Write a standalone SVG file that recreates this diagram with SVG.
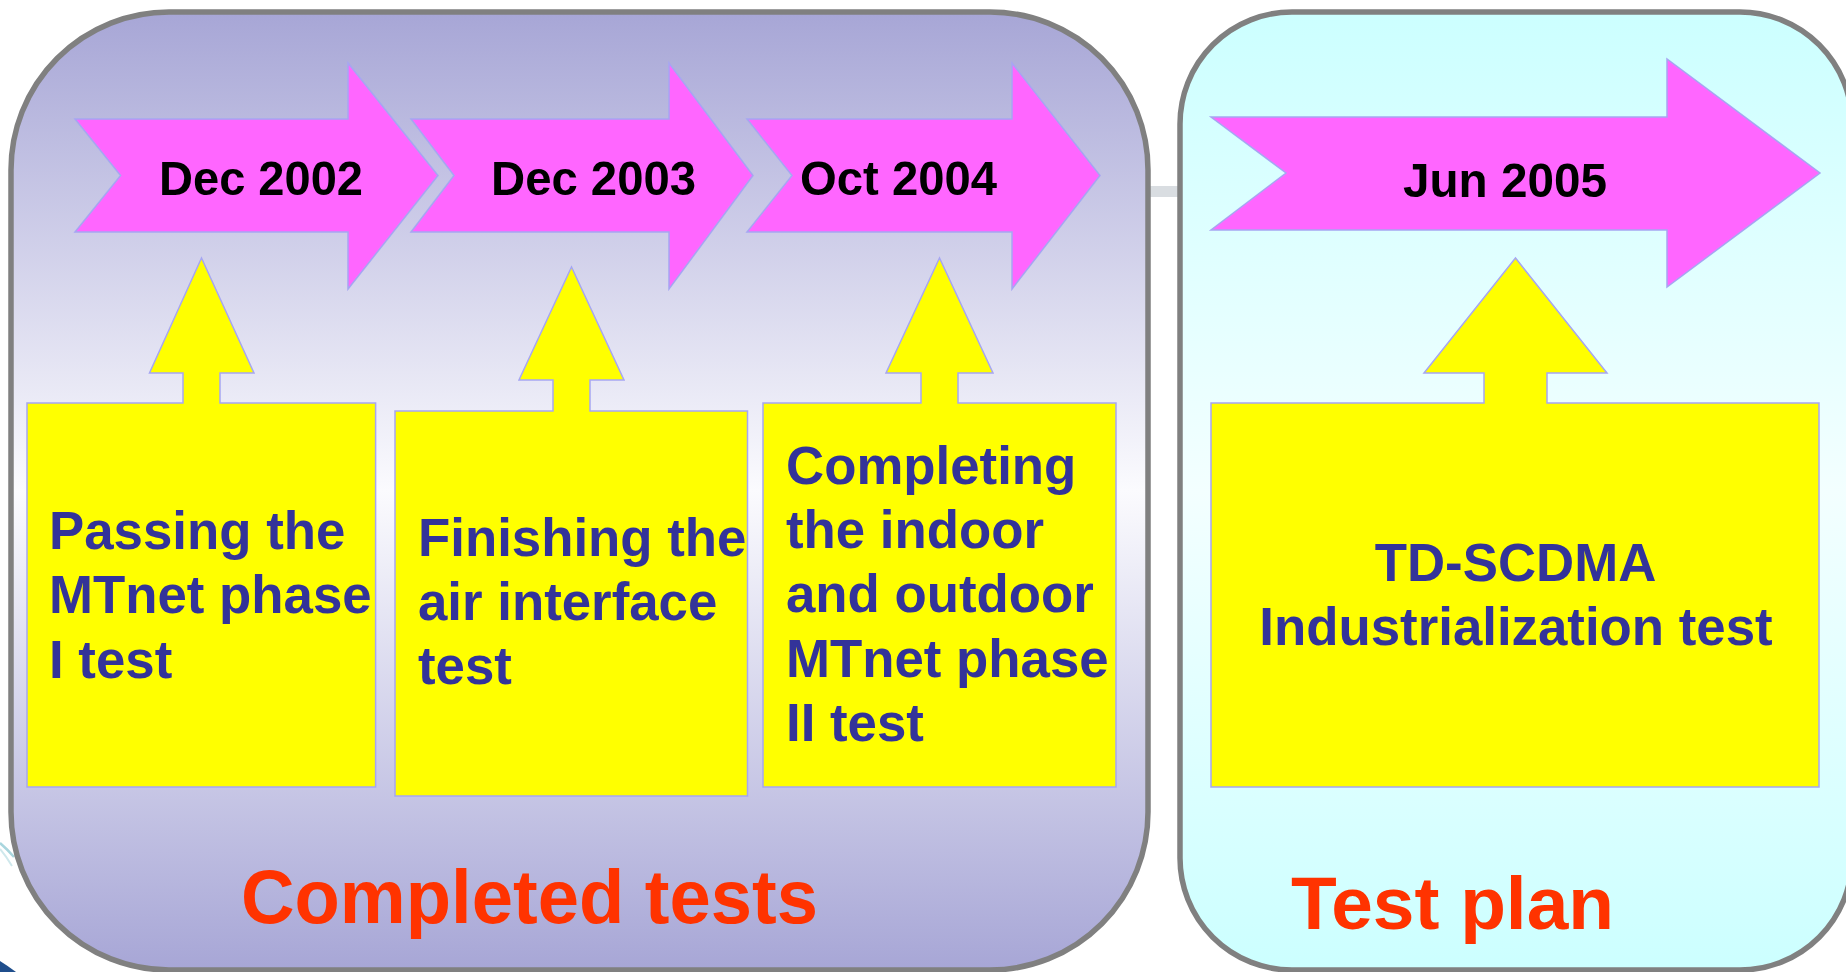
<svg xmlns="http://www.w3.org/2000/svg" width="1846" height="972" viewBox="0 0 1846 972">
<defs>
<linearGradient id="gLeft" x1="0" y1="0" x2="0" y2="1">
<stop offset="0" stop-color="#A7A6D6"/>
<stop offset="0.5" stop-color="#FBFBFE"/>
<stop offset="1" stop-color="#A7A6D6"/>
</linearGradient>
<linearGradient id="gRight" x1="0" y1="0" x2="0" y2="1">
<stop offset="0" stop-color="#CCFFFF"/>
<stop offset="0.5" stop-color="#F3FFFF"/>
<stop offset="1" stop-color="#CCFFFF"/>
</linearGradient>
<style>
.panel{stroke:#808080;stroke-width:5.5}
.pink{fill:#FF66FF;stroke:#A6A6F2;stroke-width:1.5}
.yel{fill:#FFFF00;stroke:#A6A6F2;stroke-width:1.5}
.date{font-family:"Liberation Sans",Arial,sans-serif;font-weight:bold;font-size:49px;fill:#000}
.body{font-family:"Liberation Sans",Arial,sans-serif;font-weight:bold;font-size:52.8px;fill:#333399}
.lbl{font-family:"Liberation Sans",Arial,sans-serif;font-weight:bold;font-size:76px;fill:#FF3300}
</style>
</defs>
<rect width="1846" height="972" fill="#FFFFFF"/>
<g id="background-deco">
<rect x="1148" y="186" width="34" height="11" fill="#D9DDE1"/>
<path d="M0,843 Q7,849 14,857" fill="none" stroke="#A9D6DE" stroke-width="2.5"/>
<path d="M0,849 Q6,856 12,866" fill="none" stroke="#CFE8EC" stroke-width="2"/>
<path d="M0,961 Q8,966 16,972 L0,972 Z" fill="#1F4E8C"/>
</g>
<g id="panel-completed">
<rect class="panel" x="11" y="12" width="1137" height="958" rx="158" ry="158" fill="url(#gLeft)"/>
<text class="lbl" x="241" y="923" textLength="577" lengthAdjust="spacingAndGlyphs">Completed tests</text>
</g>
<g id="panel-plan">
<rect class="panel" x="1180" y="12" width="672" height="958" rx="112" ry="112" fill="url(#gRight)"/>
<text class="lbl" x="1291" y="929" style="font-size:74px" textLength="323" lengthAdjust="spacingAndGlyphs">Test plan</text>
</g>
<g id="arrow-dec2002">
<polygon class="pink" points="75,119 348,119 348,63 438,175.5 348,289 348,232 75,232 120.6,175.5"/>
<text class="date" x="159" y="195" textLength="204" lengthAdjust="spacingAndGlyphs">Dec 2002</text>
</g>
<g id="arrow-dec2003">
<polygon class="pink" points="411,119 669,119 669,63 753,175.5 669,289 669,232 411,232 454,175.5"/>
<text class="date" x="491" y="195" textLength="205" lengthAdjust="spacingAndGlyphs">Dec 2003</text>
</g>
<g id="arrow-oct2004">
<polygon class="pink" points="747,119 1012,119 1012,63 1100,175.5 1012,289 1012,232 747,232 792,175.5"/>
<text class="date" x="800" y="195" textLength="197" lengthAdjust="spacingAndGlyphs">Oct 2004</text>
</g>
<g id="arrow-jun2005">
<polygon class="pink" points="1211,117 1667,117 1667,59 1820,173 1667,287 1667,230 1211,230 1286,173"/>
<text class="date" x="1403" y="197" textLength="204" lengthAdjust="spacingAndGlyphs">Jun 2005</text>
</g>
<g id="callout-1">
<polygon class="yel" points="27,403 183,403 183,373 149.5,373 201.5,258 254,373 220,373 220,403 375.6,403 375.6,787 27,787"/>
<text class="body" x="49"><tspan x="49" y="549">Passing the</tspan><tspan x="49" y="613">MTnet phase</tspan><tspan x="49" y="678">I test</tspan></text>
</g>
<g id="callout-2">
<polygon class="yel" points="395,411 553,411 553,380 519,380 571.5,267 624,380 590,380 590,411 747.5,411 747.5,796 395,796"/>
<text class="body" x="418"><tspan x="418" y="556">Finishing the</tspan><tspan x="418" y="620">air interface</tspan><tspan x="418" y="684">test</tspan></text>
</g>
<g id="callout-3">
<polygon class="yel" points="763,403 921,403 921,373 886,373 939.5,258 993,373 958,373 958,403 1116,403 1116,787 763,787"/>
<text class="body" x="786"><tspan x="786" y="484">Completing</tspan><tspan x="786" y="548">the indoor</tspan><tspan x="786" y="612">and outdoor</tspan><tspan x="786" y="677">MTnet phase</tspan><tspan x="786" y="741">II test</tspan></text>
</g>
<g id="callout-4">
<polygon class="yel" points="1211,403 1484,403 1484,373 1424,373 1515.5,258 1607,373 1547,373 1547,403 1819,403 1819,787 1211,787"/>
<text class="body" text-anchor="middle"><tspan x="1515.5" y="581">TD-SCDMA</tspan><tspan x="1516" y="645">Industrialization test</tspan></text>
</g>
<g id="connectors"/>
</svg>
